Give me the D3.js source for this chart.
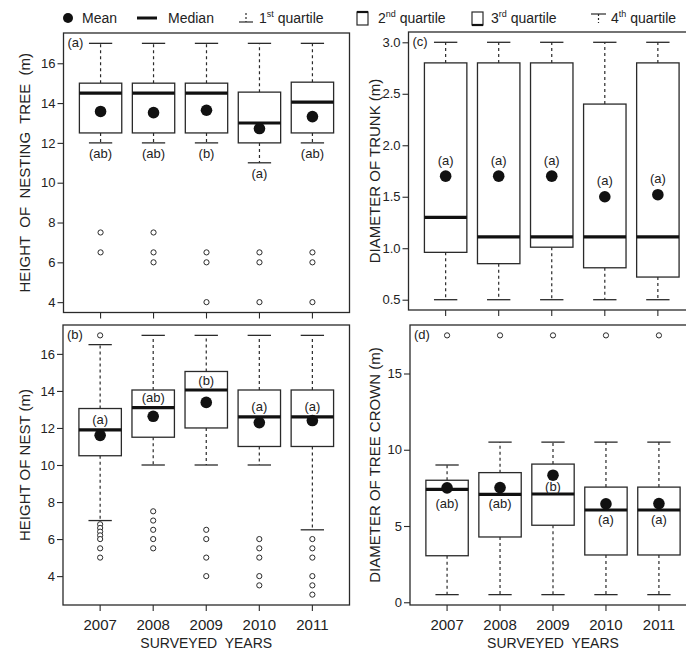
<!DOCTYPE html>
<html><head><meta charset="utf-8">
<script src="https://cdn.jsdelivr.net/npm/d3@7"></script>
<style>
html,body{margin:0;padding:0;background:#fff;}
svg{display:block;font-family:"Liberation Sans",Arial,Helvetica,sans-serif;}
</style></head><body>
<svg id="chart" width="686" height="655"></svg>
<script>
const years = ["2007", "2008", "2009", "2010", "2011"];

// (a) height of nesting tree (m)
const treeHeightLow      = [12, 12, 12, 11, 12];
const treeHeightQ1       = [12.5, 12.5, 12.5, 12, 12.5];
const treeHeightMedian   = [14.5, 14.5, 14.5, 13, 14.05];
const treeHeightQ3       = [15, 15, 15, 14.55, 15.05];
const treeHeightHigh     = [17, 17, 17, 17, 17];
const treeHeightMean     = [13.58, 13.52, 13.64, 12.72, 13.32];
const treeHeightOutliers = [[7.5, 6.5], [7.5, 6.5, 6], [6.5, 6, 4], [6.5, 6, 4], [6.5, 6, 4]];
const treeHeightGroups   = ["ab", "ab", "b", "a", "ab"];
const treeHeightTicks    = [4, 6, 8, 10, 12, 14, 16];

// (b) height of nest (m)
const nestHeightLow      = [7, 10, 10, 10, 6.5];
const nestHeightQ1       = [10.5, 11.5, 12, 11, 11];
const nestHeightMedian   = [11.9, 13.1, 14.05, 12.6, 12.6];
const nestHeightQ3       = [13.05, 14.05, 15.05, 14.05, 14.05];
const nestHeightHigh     = [16.5, 17, 17, 17, 17];
const nestHeightMean     = [11.6, 12.63, 13.38, 12.29, 12.4];
const nestHeightOutliers = [[17, 6.8, 6.6, 6.4, 6.2, 6, 5.5, 5], [7.5, 7, 6.5, 6, 5.5], [6.5, 6, 5, 4], [6, 5.5, 5, 4, 3.5], [6, 5.5, 5, 4, 3.5, 3]];
const nestHeightGroups   = ["a", "ab", "b", "a", "a"];
const nestHeightTicks    = [4, 6, 8, 10, 12, 14, 16];

// (c) diameter of trunk (m)
const trunkLow      = [0.5, 0.5, 0.5, 0.5, 0.5];
const trunkQ1       = [0.96, 0.85, 1.01, 0.81, 0.72];
const trunkMedian   = [1.3, 1.11, 1.11, 1.11, 1.11];
const trunkQ3       = [2.8, 2.8, 2.8, 2.4, 2.8];
const trunkHigh     = [3, 3, 3, 3, 3];
const trunkMean     = [1.7, 1.7, 1.7, 1.5, 1.52];
const trunkOutliers = [[], [], [], [], []];
const trunkGroups   = ["a", "a", "a", "a", "a"];
const trunkTicks    = [0.5, 1.0, 1.5, 2.0, 2.5, 3.0];

// (d) diameter of tree crown (m)
const crownLow      = [0.5, 0.5, 0.5, 0.5, 0.5];
const crownQ1       = [3.05, 4.28, 5.05, 3.1, 3.1];
const crownMedian   = [7.4, 7.08, 7.1, 6.05, 6.05];
const crownQ3       = [8.0, 8.5, 9.06, 7.55, 7.55];
const crownHigh     = [9, 10.5, 10.5, 10.5, 10.5];
const crownMean     = [7.5, 7.52, 8.33, 6.45, 6.47];
const crownOutliers = [[17.5], [17.5], [17.5], [17.5], [17.5]];
const crownGroups   = ["ab", "ab", "b", "a", "a"];
const crownTicks    = [0, 5, 10, 15];

const FONT = '"Liberation Sans", Arial, Helvetica, sans-serif';
const INK = "#222";
const LINE = "#2a2a2a";

const panels = [
  { letter: "(a)", title: "HEIGHT  OF  NESTING  TREE  (m)", left: 63.5, top: 33, right: 349.5, bottom: 312.5,
    low: treeHeightLow, q1: treeHeightQ1, med: treeHeightMedian, q3: treeHeightQ3, high: treeHeightHigh,
    mean: treeHeightMean, outliers: treeHeightOutliers, groups: treeHeightGroups, ticks: treeHeightTicks,
    fmt: d3.format("d"), titleX: 24, showYears: false,
    labelY: (r, y) => y(r.low) + 11 },
  { letter: "(b)", title: "HEIGHT OF NEST (m)", left: 63, top: 325, right: 349.5, bottom: 605,
    low: nestHeightLow, q1: nestHeightQ1, med: nestHeightMedian, q3: nestHeightQ3, high: nestHeightHigh,
    mean: nestHeightMean, outliers: nestHeightOutliers, groups: nestHeightGroups, ticks: nestHeightTicks,
    fmt: d3.format("d"), titleX: 24, showYears: true,
    labelY: (r, y) => y(r.med) - 10 },
  { letter: "(c)", title: "DIAMETER OF TRUNK (m)", left: 408.5, top: 32, right: 695, bottom: 310,
    low: trunkLow, q1: trunkQ1, med: trunkMedian, q3: trunkQ3, high: trunkHigh,
    mean: trunkMean, outliers: trunkOutliers, groups: trunkGroups, ticks: trunkTicks,
    fmt: d3.format(".1f"), titleX: 374, showYears: false,
    labelY: (r, y) => y(r.mean) - 16 },
  { letter: "(d)", title: "DIAMETER OF TREE CROWN (m)", left: 410, top: 325, right: 696, bottom: 605,
    low: crownLow, q1: crownQ1, med: crownMedian, q3: crownQ3, high: crownHigh,
    mean: crownMean, outliers: crownOutliers, groups: crownGroups, ticks: crownTicks,
    fmt: d3.format("d"), titleX: 374, showYears: true,
    labelY: (r, y) => {
      const below = y(r.mean) + 16;
      return Math.abs(below - y(r.med)) < 8 ? y(r.med) - 7 : below;
    } }
];

const svg = d3.select("#chart");

function drawPanel(p) {
  const g = svg.append("g");
  const x = d3.scaleBand().domain(years).range([p.left, p.right])
    .paddingInner(0.2).paddingOuter(0.3);
  const [lo, hi] = d3.extent([].concat(p.low, p.high, p.outliers.flat()));
  const pad = (hi - lo) * 0.04;
  const y = d3.scaleLinear().domain([lo - pad, hi + pad]).range([p.bottom, p.top]);

  const rows = years.map((yr, i) => ({
    yr, low: p.low[i], q1: p.q1[i], med: p.med[i], q3: p.q3[i], high: p.high[i],
    mean: p.mean[i], outliers: p.outliers[i], group: p.groups[i]
  }));
  const bw = x.bandwidth();
  const cx = d => x(d.yr) + bw / 2;

  // y axis
  const ya = g.append("g").attr("transform", `translate(${p.left},0)`)
    .call(d3.axisLeft(y).tickValues(p.ticks).tickFormat(p.fmt).tickSize(6).tickPadding(2));
  ya.select(".domain").remove();
  ya.attr("font-family", FONT).attr("font-size", 13);
  ya.selectAll("line").attr("stroke", LINE).attr("stroke-width", 1.1);
  ya.selectAll("text").attr("fill", INK);

  // x axis
  const xa = g.append("g").attr("transform", `translate(0,${p.bottom})`)
    .call(d3.axisBottom(x).tickSize(6).tickPadding(8).tickFormat(p.showYears ? d => d : () => ""));
  xa.select(".domain").remove();
  xa.attr("font-family", FONT).attr("font-size", 15);
  xa.selectAll("line").attr("stroke", LINE).attr("stroke-width", 1.1);
  xa.selectAll("text").attr("fill", INK);

  // whiskers
  const wh = g.append("g").attr("stroke", LINE).attr("stroke-width", 1.2);
  wh.selectAll(".wu").data(rows).join("line")
    .attr("x1", cx).attr("x2", cx).attr("y1", d => y(d.q3)).attr("y2", d => y(d.high))
    .attr("stroke-dasharray", "3,3");
  wh.selectAll(".wl").data(rows).join("line")
    .attr("x1", cx).attr("x2", cx).attr("y1", d => y(d.q1)).attr("y2", d => y(d.low))
    .attr("stroke-dasharray", "3,3");
  const cap = bw * 0.55;
  g.append("g").attr("stroke", LINE).attr("stroke-width", 1.3)
    .selectAll("line").data(rows.flatMap(d => [{d, v: d.high}, {d, v: d.low}])).join("line")
    .attr("x1", e => cx(e.d) - cap / 2).attr("x2", e => cx(e.d) + cap / 2)
    .attr("y1", e => y(e.v)).attr("y2", e => y(e.v));

  // boxes
  g.append("g").selectAll("rect").data(rows).join("rect")
    .attr("x", d => x(d.yr)).attr("width", bw)
    .attr("y", d => y(d.q3)).attr("height", d => y(d.q1) - y(d.q3))
    .attr("fill", "#fff").attr("stroke", LINE).attr("stroke-width", 1.3);

  // medians
  g.append("g").selectAll("line").data(rows).join("line")
    .attr("x1", d => x(d.yr)).attr("x2", d => x(d.yr) + bw)
    .attr("y1", d => y(d.med)).attr("y2", d => y(d.med))
    .attr("stroke", "#111").attr("stroke-width", 3.2);

  // outliers
  g.append("g").selectAll("circle").data(rows.flatMap(d => d.outliers.map(v => ({d, v})))).join("circle")
    .attr("cx", e => cx(e.d)).attr("cy", e => y(e.v)).attr("r", 2.6)
    .attr("fill", "#fff").attr("stroke", LINE).attr("stroke-width", 1);

  // means
  g.append("g").selectAll("circle").data(rows).join("circle")
    .attr("cx", cx).attr("cy", d => y(d.mean)).attr("r", 5.8).attr("fill", "#111");

  // group letters
  g.append("g").attr("font-family", FONT).attr("font-size", 13).attr("fill", INK)
    .attr("text-anchor", "middle")
    .selectAll("text").data(rows).join("text")
    .attr("x", cx).attr("y", d => p.labelY(d, y)).attr("dominant-baseline", "central")
    .text(d => `(${d.group})`);

  // frame
  g.append("rect").attr("x", p.left).attr("y", p.top)
    .attr("width", p.right - p.left).attr("height", p.bottom - p.top)
    .attr("fill", "none").attr("stroke", LINE).attr("stroke-width", 1.3);

  // panel letter
  g.append("text").attr("x", p.left + 4).attr("y", p.top + 9).attr("dominant-baseline", "central")
    .attr("font-family", FONT).attr("font-size", 13).attr("fill", INK).text(p.letter);

  // y title
  g.append("text")
    .attr("transform", `translate(${p.titleX},${(p.top + p.bottom) / 2}) rotate(-90)`)
    .attr("text-anchor", "middle").attr("dominant-baseline", "central")
    .attr("font-family", FONT).attr("font-size", 15).attr("fill", INK)
    .style("white-space", "pre").text(p.title);

  if (p.showYears) {
    g.append("text").attr("x", (p.left + p.right) / 2 - (p.right > 686 ? 0 : 0)).attr("y", 648)
      .attr("text-anchor", "middle").attr("font-family", FONT).attr("font-size", 14)
      .attr("fill", INK).style("white-space", "pre").text("SURVEYED  YEARS");
  }
}

panels.forEach(drawPanel);

// legend
const lg = svg.append("g").attr("font-family", FONT).attr("font-size", 14).attr("fill", INK);
const ly = 18;
lg.append("circle").attr("cx", 68).attr("cy", ly).attr("r", 5).attr("fill", "#111");
lg.append("text").attr("x", 82).attr("y", ly + 5).text("Mean");
lg.append("line").attr("x1", 137).attr("x2", 157).attr("y1", ly).attr("y2", ly)
  .attr("stroke", "#111").attr("stroke-width", 3);
lg.append("text").attr("x", 168).attr("y", ly + 5).text("Median");

// 1st quartile glyph: lower whisker with cap
lg.append("line").attr("x1", 239).attr("x2", 253).attr("y1", ly + 4).attr("y2", ly + 4)
  .attr("stroke", LINE).attr("stroke-width", 1.2);
lg.append("line").attr("x1", 246).attr("x2", 246).attr("y1", ly - 5).attr("y2", ly + 4)
  .attr("stroke", LINE).attr("stroke-width", 1.2).attr("stroke-dasharray", "2,2");

function quartileLabel(x0, num, sup) {
  const t = lg.append("text").attr("x", x0).attr("y", ly + 5);
  t.append("tspan").text(num);
  t.append("tspan").attr("font-size", 9).attr("dy", -6).text(sup);
  t.append("tspan").attr("dy", 6).text(" quartile");
}
quartileLabel(259, "1", "st");

// 2nd quartile glyph: box part with median on top
lg.append("rect").attr("x", 357).attr("y", ly - 6).attr("width", 11).attr("height", 13)
  .attr("fill", "#fff").attr("stroke", LINE).attr("stroke-width", 1.2);
lg.append("line").attr("x1", 357).attr("x2", 368).attr("y1", ly - 6).attr("y2", ly - 6)
  .attr("stroke", "#111").attr("stroke-width", 2.2);
quartileLabel(378, "2", "nd");

// 3rd quartile glyph: box part with median at bottom
lg.append("rect").attr("x", 472).attr("y", ly - 6).attr("width", 11).attr("height", 13)
  .attr("fill", "#fff").attr("stroke", LINE).attr("stroke-width", 1.2);
lg.append("line").attr("x1", 472).attr("x2", 483).attr("y1", ly + 7).attr("y2", ly + 7)
  .attr("stroke", "#111").attr("stroke-width", 2.2);
quartileLabel(491, "3", "rd");

// 4th quartile glyph: upper whisker with cap
lg.append("line").attr("x1", 591).attr("x2", 606).attr("y1", ly - 4).attr("y2", ly - 4)
  .attr("stroke", LINE).attr("stroke-width", 1.2);
lg.append("line").attr("x1", 598.5).attr("x2", 598.5).attr("y1", ly - 4).attr("y2", ly + 5)
  .attr("stroke", LINE).attr("stroke-width", 1.2).attr("stroke-dasharray", "2,2");
quartileLabel(611, "4", "th");
</script>
</body></html>
